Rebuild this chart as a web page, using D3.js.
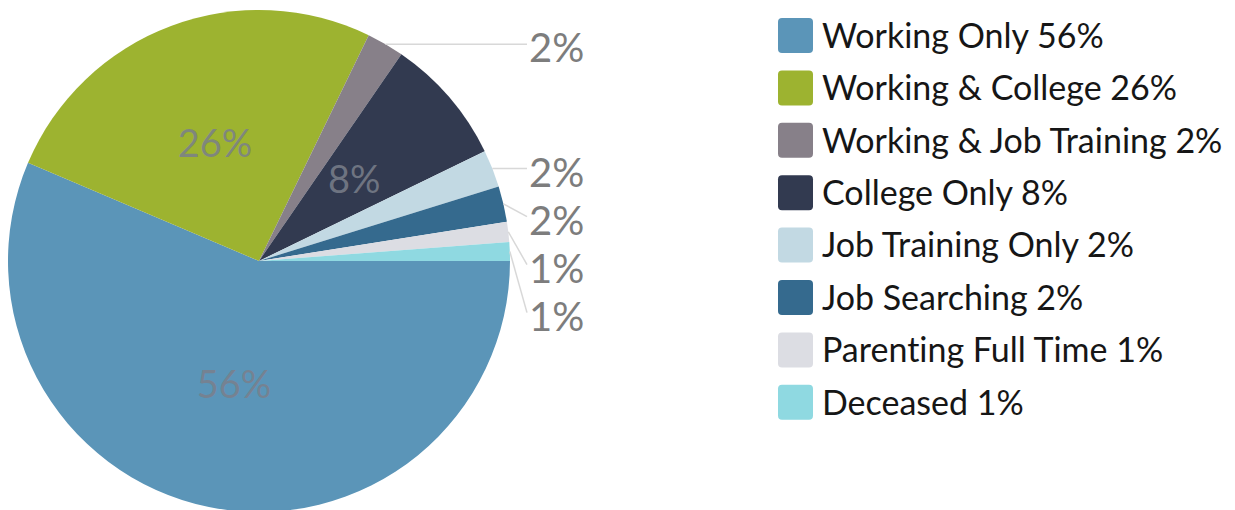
<!DOCTYPE html>
<html>
<head>
<meta charset="utf-8">
<script src="https://cdn.jsdelivr.net/npm/d3@7"></script>
<style>
  body { margin: 0; background: #fff; }
  svg text { font-family: Lato, "Open Sans", sans-serif; font-variant-ligatures: none; }
</style>
</head>
<body>
<div id="graphic"></div>
<script>
// chart data
const categories = ["Working Only", "Working & College", "Working & Job Training", "College Only",
  "Job Training Only", "Job Searching", "Parenting Full Time", "Deceased"];
const values = [56.4, 25.8, 2.4, 8.2, 2.4, 2.3, 1.3, 1.2];
const colours = ["#5b95b8", "#9db330", "#878089", "#323a50", "#c2d9e3", "#356a8e", "#dcdde3", "#8fd9e1"];

const width = 1235, height = 510;
const cx = 259, cy = 261, radius = 251;
const insideMin = 5; // slices under this % get an outside label

const graphic = d3.select('#graphic');

function drawGraphic() {
  graphic.selectAll("*").remove();

  const data = categories.map((c, i) => ({ name: c, value: values[i], colour: colours[i] }));

  const svg = graphic.append('svg')
    .attr('width', width)
    .attr('height', height);

  // start at 3 o'clock, go clockwise
  const pie = d3.pie()
    .sort(null)
    .value(d => d.value)
    .startAngle(Math.PI / 2)
    .endAngle(Math.PI / 2 + 2 * Math.PI);

  const arc = d3.arc().innerRadius(0).outerRadius(radius);
  const arcs = pie(data);

  const g = svg.append('g').attr('transform', 'translate(' + cx + ',' + cy + ')');

  g.selectAll('path.slice')
    .data(arcs)
    .join('path')
    .attr('class', 'slice')
    .attr('d', arc)
    .attr('fill', d => d.data.colour);

  // inside labels for the big slices
  g.selectAll('text.inside')
    .data(arcs.filter(d => d.data.value >= insideMin))
    .join('text')
    .attr('class', 'inside')
    .attr('transform', d => 'translate(' + arc.centroid(d) + ')')
    .attr('text-anchor', 'middle')
    .attr('dy', '0.36em')
    .attr('font-size', 38)
    .attr('fill', '#7a7f8b')
    .attr('fill-opacity', 0.85)
    .text(d => Math.round(d.data.value) + '%');

  // outside labels, pushed down so they don't overlap
  const labelX = radius + 19;
  const gap = 48;
  let prevY = -Infinity;
  const outside = arcs.filter(d => d.data.value < insideMin).map(d => {
    const a = (d.startAngle + d.endAngle) / 2;
    const px = radius * Math.sin(a), py = -radius * Math.cos(a);
    const ly = Math.max(py, prevY + gap);
    prevY = ly;
    return { d: d, px: px, py: py, ly: ly };
  });

  g.selectAll('line.connector')
    .data(outside)
    .join('line')
    .attr('class', 'connector')
    .attr('x1', d => d.px)
    .attr('y1', d => d.py)
    .attr('x2', labelX - 2)
    .attr('y2', d => d.ly)
    .attr('stroke', '#d8d8d8')
    .attr('stroke-width', 1.5);

  g.selectAll('text.outside')
    .data(outside)
    .join('text')
    .attr('class', 'outside')
    .attr('x', labelX)
    .attr('y', d => d.ly)
    .attr('dy', '0.45em')
    .attr('font-size', 40)
    .attr('fill', '#7d7d7d')
    .text(d => Math.round(d.d.data.value) + '%');

  // legend
  const legendX = 778, legendY = 35.5, rowH = 52.4, box = 35;
  const legenditem = svg.append('g')
    .selectAll('g.legend--item')
    .data(data)
    .join('g')
    .attr('class', 'legend--item')
    .attr('transform', (d, i) => 'translate(' + legendX + ',' + (legendY + i * rowH) + ')');

  legenditem.append('rect')
    .attr('x', 0)
    .attr('y', -box / 2)
    .attr('width', box)
    .attr('height', box)
    .attr('rx', 4)
    .attr('fill', d => d.colour);

  legenditem.append('text')
    .attr('x', 44)
    .attr('dy', '0.36em')
    .attr('font-size', 34)
    .attr('fill', '#161616')
    .text(d => d.name + ' ' + Math.round(d.value) + '%');
}

drawGraphic();
</script>
</body>
</html>
